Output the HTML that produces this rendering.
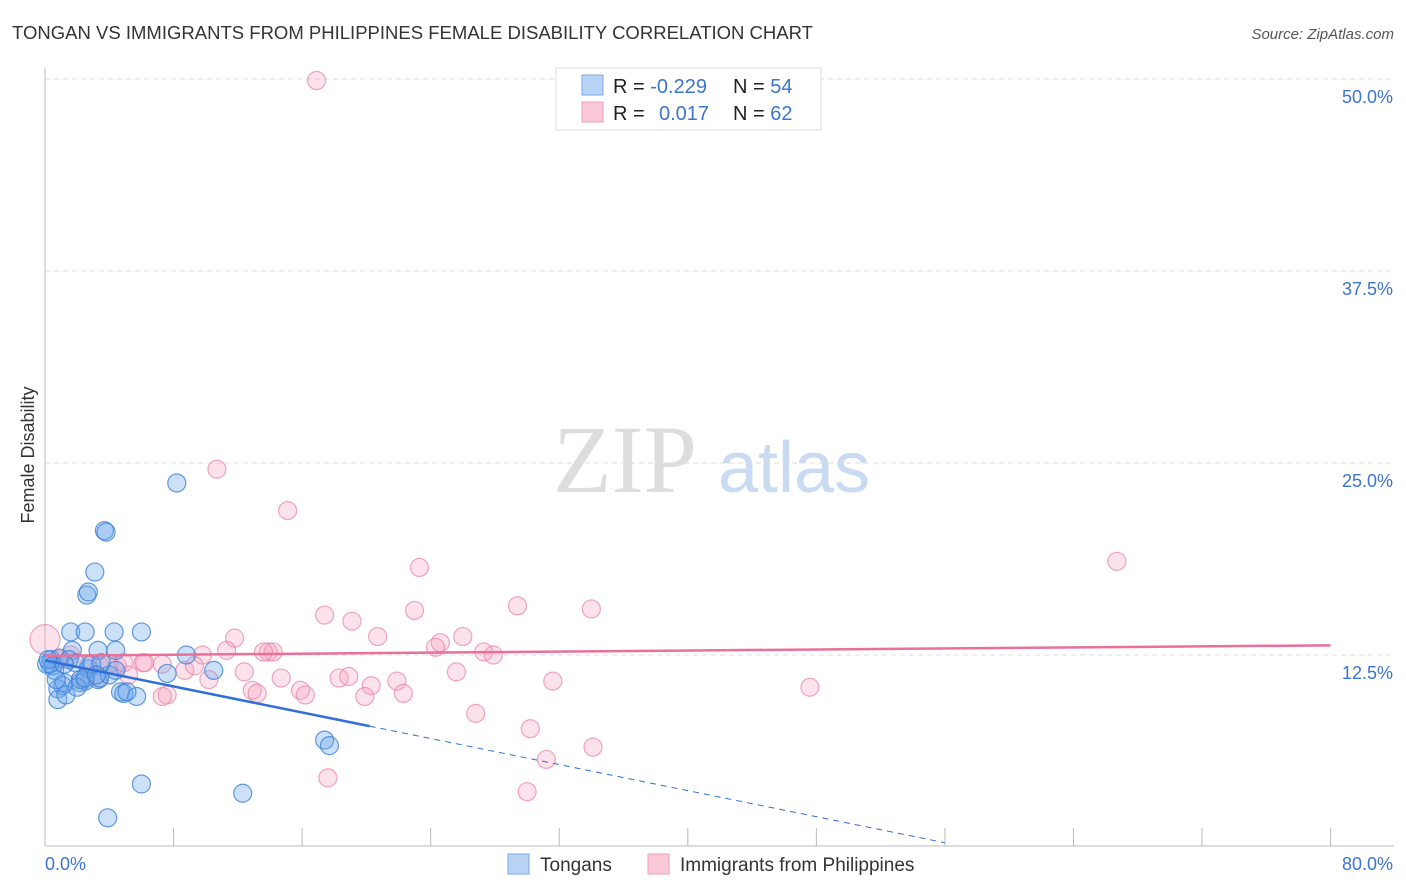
<!DOCTYPE html>
<html><head><meta charset="utf-8"><style>
body{margin:0;background:#fff;font-family:"Liberation Sans",sans-serif;}
#wrap{position:relative;width:1406px;height:892px;overflow:hidden}
</style></head><body>
<div id="wrap">
<svg id="svg" width="1406" height="892" xmlns="http://www.w3.org/2000/svg" style="position:absolute;left:0;top:0">
<text x="12" y="39" font-size="18" fill="#333" textLength="801" lengthAdjust="spacingAndGlyphs">TONGAN VS IMMIGRANTS FROM PHILIPPINES FEMALE DISABILITY CORRELATION CHART</text>
<text x="1394" y="39" font-size="15" fill="#555" font-style="italic" text-anchor="end">Source: ZipAtlas.com</text>
<text x="34" y="455" font-size="18" fill="#333" text-anchor="middle" transform="rotate(-90 34 455)">Female Disability</text>
<text x="553" y="492" font-size="96" fill="#ddd" font-family="Liberation Serif,serif">ZIP</text>
<text x="718" y="492" font-size="72" fill="#c8dbf2">atlas</text>
<g id="grid"></g><g id="pts"></g><g id="trend"></g>
<g>
<rect x="556" y="68" width="265" height="62" fill="#fff" stroke="#ddd"/>
<rect x="582" y="75" width="21" height="20" fill="#b9d3f5" stroke="#7aa9e6"/>
<rect x="582" y="102" width="21" height="20" fill="#f9c9d8" stroke="#ee9db8"/>
<text x="613" y="93" font-size="20" fill="#222">R = <tspan fill="#3b74d1">-0.229</tspan><tspan x="733">N = </tspan><tspan fill="#3b74d1">54</tspan></text>
<text x="613" y="120" font-size="20" fill="#222">R = <tspan x="659" fill="#3b74d1">0.017</tspan><tspan x="733">N = </tspan><tspan fill="#3b74d1">62</tspan></text>
</g>
<g>
<rect x="508" y="854" width="21" height="20" fill="#b9d3f5" stroke="#7aa9e6"/>
<text x="540" y="871" font-size="19" fill="#333">Tongans</text>
<rect x="648" y="854" width="21" height="20" fill="#f9c9d8" stroke="#ee9db8"/>
<text x="680" y="871" font-size="19" fill="#333">Immigrants from Philippines</text>
</g>
</svg>
</div>
<script>
const yTicks=[12.5,25,37.5,50];
const yTickLabels=["12.5%","25.0%","37.5%","50.0%"];
const xTickLabels=["0.0%","80.0%"];
const tongX=[8.2,3.7,3.8,3.1,2.6,2.7,1.6,2.5,4.3,6,3.3,1.7,4.4,8.8,10.5,7.6,0.4,0.9,0.6,0.3,1.1,0.8,1.2,2.2,2.5,3.3,3.4,1.5,1.9,2.7,4.7,4.9,5.7,5.1,0.8,1.3,2.2,4,17.4,17.7,6,12.3,3.9,0.1,0.2,0.5,1.2,2.9,3.5,0.7,2,2.5,3.2,4.4];
const tongY=[23.7,20.6,20.5,17.9,16.4,16.6,14.0,14.0,14.0,14.0,12.8,12.8,12.8,12.5,11.5,11.3,12.2,12.3,11.5,11.9,10.5,10.3,10.7,10.7,10.8,10.9,11.0,12.2,12.0,11.6,10.1,10.0,9.8,10.1,9.6,9.9,10.9,11.2,6.96,6.6,4.1,3.5,1.9,11.9,12.2,11.8,11.9,11.9,12.0,10.9,10.4,11.0,11.2,11.5];
const phX=[16.9,10.7,15.1,66.7,23.3,17.4,29.4,34,23,19.1,11.8,20.7,26,24.6,24.3,27.3,27.9,13.9,14.2,9.8,11.3,13.6,0,25.6,12.4,14.7,18.3,18.9,20.3,21.9,22.3,19.9,31.6,47.6,15.9,16.2,12.9,13.2,10.2,8.7,7.3,6.1,5.2,4.5,3.4,2.2,2.7,4,7.6,7.3,26.8,30.2,31.2,34.1,17.6,30,0.9,1.6,6.2,9.3,4.9,3.4];
const phY=[49.9,24.6,21.9,18.6,18.2,15.1,15.7,15.5,15.4,14.7,13.6,13.7,13.7,13.3,13.0,12.7,12.5,12.7,12.7,12.5,12.8,12.7,13.5,11.4,11.4,11.0,11.0,11.1,10.5,10.8,10.0,9.8,10.8,10.4,10.2,9.9,10.2,10.0,10.9,11.5,11.9,12.0,11.2,11.8,11.0,10.9,11.8,11.9,9.9,9.8,8.7,7.7,5.7,6.5,4.5,3.6,12.2,12.5,12.0,11.8,12.0,11.8];
const phR=[];phR[22]=15;
const tongLine=[12.15,-0.212,0,20.2,56];
const phLine=[12.45,0.0085,0,80];
const X=v=>45+v*16.07, Y=v=>847-v*15.36;
const NS="http://www.w3.org/2000/svg";
const svg=document.getElementById('svg');
function mk(t,a,p){const e=document.createElementNS(NS,t);for(const k in a)e.setAttribute(k,a[k]);(p||svg).appendChild(e);return e;}
const grid=document.getElementById('grid');
yTicks.forEach((t,i)=>{
 const l=mk('line',{x1:45,x2:1394,y1:Y(t),y2:Y(t),stroke:'#ddd','stroke-dasharray':'5,4'},grid);
 
 
 const tx=mk('text',{x:1393,y:Y(t)+24,'font-size':18,fill:'#3b74d1','text-anchor':'end'},grid);
 tx.textContent=yTickLabels[i];
 
 
});
mk('line',{x1:45,x2:45,y1:68,y2:846,stroke:'#bbb'},grid);
mk('line',{x1:45,x2:1394,y1:846,y2:846,stroke:'#bbb'},grid);
for(let i=0;i<=10;i++){const l=mk('line',{x1:X(i*8),x2:X(i*8),y1:828,y2:846,stroke:'#bbb'},grid);
 
 }
[[0,'start',45],[80,'end',1393]].forEach((d,i)=>{const t=mk('text',{x:d[2],y:870,'font-size':18,fill:'#3b74d1','text-anchor':d[1]},grid);t.textContent=xTickLabels[i];
 
 });
const pts=document.getElementById('pts');
phX.forEach((x,i)=>{const c=mk('circle',{cx:X(x),cy:Y(phY[i]),r:phR[i]||9,fill:'rgba(244,160,190,0.3)',stroke:'rgba(232,130,165,0.7)','stroke-width':1.2},pts);
 
 });
tongX.forEach((x,i)=>{const c=mk('circle',{cx:X(x),cy:Y(tongY[i]),r:9,fill:'rgba(110,165,235,0.35)',stroke:'rgba(60,130,215,0.8)','stroke-width':1.2},pts);
 
 });
const tr=document.getElementById('trend');
const ty=x=>tongLine[0]+tongLine[1]*x;
let l1=mk('line',{x1:X(tongLine[2]),y1:Y(ty(tongLine[2])),x2:X(tongLine[3]),y2:Y(ty(tongLine[3])),stroke:'#2f6fd6','stroke-width':2.5},tr);


let l2=mk('line',{x1:X(tongLine[3]),y1:Y(ty(tongLine[3])),x2:X(tongLine[4]),y2:Y(ty(tongLine[4])),stroke:'#2f6fd6','stroke-width':1,'stroke-dasharray':'6,5'},tr);


const py=x=>phLine[0]+phLine[1]*x;
let l3=mk('line',{x1:X(0),y1:Y(py(0)),x2:X(phLine[3]),y2:Y(py(phLine[3])),stroke:'#e8709a','stroke-width':2.5},tr);


</script>
</body></html>
